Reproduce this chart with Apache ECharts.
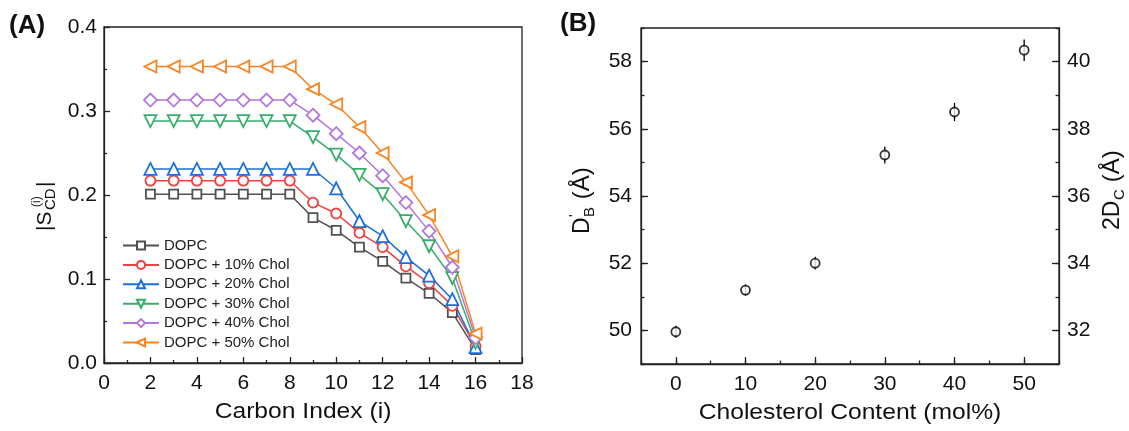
<!DOCTYPE html>
<html>
<head>
<meta charset="utf-8">
<script src="https://cdn.jsdelivr.net/npm/echarts@6/dist/echarts.min.js"></script>
<style>
html, body {margin: 0; padding: 0; background: #fff;}
#main {width: 1129px; height: 431px;}
</style>
</head>
<body>
<div id="main"></div>
<script>
// panel A: order parameter vs carbon index
var carbonIndex = [2, 3, 4, 5, 6, 7, 8, 9, 10, 11, 12, 13, 14, 15, 16];
var dopc   = [0.201, 0.201, 0.201, 0.201, 0.201, 0.201, 0.201, 0.173, 0.158, 0.138, 0.121, 0.101, 0.083, 0.060, 0.016];
var chol10 = [0.217, 0.217, 0.217, 0.217, 0.217, 0.217, 0.217, 0.191, 0.178, 0.155, 0.138, 0.115, 0.095, 0.068, 0.020];
var chol20 = [0.231, 0.231, 0.231, 0.231, 0.231, 0.231, 0.231, 0.231, 0.208, 0.169, 0.151, 0.126, 0.104, 0.076, 0.019];
var chol30 = [0.288, 0.288, 0.288, 0.288, 0.288, 0.288, 0.288, 0.269, 0.248, 0.224, 0.201, 0.169, 0.139, 0.101, 0.024];
var chol40 = [0.313, 0.313, 0.313, 0.313, 0.313, 0.313, 0.313, 0.295, 0.273, 0.250, 0.223, 0.191, 0.157, 0.114, 0.030];
var chol50 = [0.353, 0.353, 0.353, 0.353, 0.353, 0.353, 0.353, 0.326, 0.308, 0.281, 0.250, 0.215, 0.176, 0.127, 0.035];
var seriesNames = ['DOPC', 'DOPC + 10% Chol', 'DOPC + 20% Chol', 'DOPC + 30% Chol', 'DOPC + 40% Chol', 'DOPC + 50% Chol'];

// panel B: spacing vs cholesterol content
var cholContent = [0, 10, 20, 30, 40, 50];
var spacingD = [49.96, 51.20, 52.00, 55.22, 56.50, 58.34];
var spacingErr = [0.18, 0.17, 0.19, 0.25, 0.27, 0.32];

// tick labels
var xTicksB = [0, 10, 20, 30, 40, 50];
var yTicksBLeft = [50, 52, 54, 56, 58];
var yTicksBRight = [32, 34, 36, 38, 40];

var font = 'Liberation Sans';
var ink = '#111';
var axisCol = '#222';

var myChart = echarts.init(document.getElementById('main'));

function lineSeries(name, values, color, symbol, rotate, size) {
    return {
        name: name,
        type: 'line',
        xAxisIndex: 0,
        yAxisIndex: 0,
        data: carbonIndex.map(function (c, i) { return [c, values[i]]; }),
        symbol: symbol,
        symbolSize: size,
        symbolRotate: rotate,
        showAllSymbol: true,
        lineStyle: {color: color, width: 1.5},
        itemStyle: {color: '#fff', borderColor: color, borderWidth: 1.8},
        emphasis: {disabled: true}
    };
}

function rotatedTitle(x, y, parts) {
    return {
        type: 'group', x: x, y: y, rotation: Math.PI / 2,
        children: parts.map(function (p) {
            return {
                type: 'text', x: p[0], y: p[1],
                style: {text: p[2], fontSize: p[3], fontFamily: font, fill: ink, verticalAlign: 'bottom'}
            };
        })
    };
}

function axisBase() {
    return {
        axisLine: {show: true, onZero: false, lineStyle: {color: axisCol, width: 1.3}},
        splitLine: {show: false},
        axisLabel: {fontSize: 21, fontFamily: font, color: ink},
        axisTick: {inside: true, lineStyle: {color: axisCol, width: 1.3}}
    };
}

function minorAxis(min, max, interval, position) {
    return {
        type: 'value', gridIndex: 1, min: min, max: max, interval: interval, position: position,
        axisLine: {show: false, onZero: false}, splitLine: {show: false}, axisLabel: {show: false},
        axisTick: {inside: true, length: 3.5, lineStyle: {color: axisCol, width: 1.3}}
    };
}

var xA = axisBase();
xA.type = 'value'; xA.gridIndex = 0; xA.min = 0; xA.max = 18; xA.interval = 2;
xA.axisTick.length = 6; xA.axisLabel.margin = 10;
xA.minorTick = {show: true, splitNumber: 2, length: 3, lineStyle: {color: axisCol, width: 1.3}};

var yA = axisBase();
yA.type = 'value'; yA.gridIndex = 0; yA.min = 0; yA.max = 0.4; yA.interval = 0.1;
yA.axisTick.length = 6; yA.axisLabel.margin = 7;
yA.axisLabel.formatter = function (v) { return v.toFixed(1); };
yA.minorTick = {show: true, splitNumber: 2, length: 3, lineStyle: {color: axisCol, width: 1.3}};

var xB = axisBase();
xB.type = 'value'; xB.gridIndex = 1; xB.min = -5; xB.max = 55;
xB.axisTick.length = 7; xB.axisTick.customValues = xTicksB;
xB.axisLabel.customValues = xTicksB; xB.axisLabel.margin = 10;

var yBL = axisBase();
yBL.type = 'value'; yBL.gridIndex = 1; yBL.min = 49; yBL.max = 59; yBL.position = 'left';
yBL.axisTick.length = 7; yBL.axisTick.customValues = yTicksBLeft;
yBL.axisLabel.customValues = yTicksBLeft; yBL.axisLabel.margin = 9;

var yBR = axisBase();
yBR.type = 'value'; yBR.gridIndex = 1; yBR.min = 31; yBR.max = 41; yBR.position = 'right';
yBR.axisTick.length = 7; yBR.axisTick.customValues = yTicksBRight;
yBR.axisLabel.customValues = yTicksBRight; yBR.axisLabel.margin = 8;

var option = {
    animation: false,
    backgroundColor: '#fff',
    grid: [
        {left: 104, top: 27, width: 418, height: 336, show: true, borderColor: axisCol, borderWidth: 1.3},
        {left: 641, top: 28, width: 418, height: 336, show: true, borderColor: axisCol, borderWidth: 1.3}
    ],
    legend: {
        orient: 'vertical', left: 117, top: 233,
        itemWidth: 36, itemHeight: 10, itemGap: 4.4,
        data: seriesNames,
        textStyle: {fontSize: 15, fontFamily: font, color: '#222'},
        selectedMode: false
    },
    xAxis: [xA, xB, minorAxis(-5, 55, 5, 'bottom')],
    yAxis: [yA, yBL, minorAxis(49, 59, 1, 'left'), yBR, minorAxis(31, 41, 1, 'right')],
    series: [
        lineSeries(seriesNames[0], dopc, '#515151', 'rect', 0, 9),
        lineSeries(seriesNames[1], chol10, '#F14040', 'circle', 0, 10),
        lineSeries(seriesNames[2], chol20, '#1A6FDF', 'triangle', 0, 12),
        lineSeries(seriesNames[3], chol30, '#37AD6B', 'triangle', 180, 12),
        lineSeries(seriesNames[4], chol40, '#B177DE', 'diamond', 0, 13),
        lineSeries(seriesNames[5], chol50, '#FB8320', 'triangle', 90, 12),
        {
            type: 'custom',
            xAxisIndex: 1,
            yAxisIndex: 1,
            data: cholContent.map(function (c, i) {
                return [c, spacingD[i] - spacingErr[i], spacingD[i] + spacingErr[i]];
            }),
            renderItem: function (params, api) {
                var lo = api.coord([api.value(0), api.value(1)]);
                var hi = api.coord([api.value(0), api.value(2)]);
                return {
                    type: 'line',
                    shape: {x1: lo[0], y1: lo[1], x2: hi[0], y2: hi[1]},
                    style: {stroke: '#000', lineWidth: 1.3}
                };
            },
            z: 1
        },
        {
            type: 'scatter',
            xAxisIndex: 1,
            yAxisIndex: 1,
            data: cholContent.map(function (c, i) { return [c, spacingD[i]]; }),
            symbol: 'circle',
            symbolSize: 9,
            itemStyle: {color: '#fff', borderColor: '#000', borderWidth: 1.8},
            emphasis: {disabled: true},
            z: 3
        }
    ],
    graphic: [
        {type: 'text', left: 9, top: 13, style: {text: '(A)', fontSize: 26, fontWeight: 'bold', fontFamily: font, fill: ink}},
        {type: 'text', left: 560, top: 11, style: {text: '(B)', fontSize: 26, fontWeight: 'bold', fontFamily: font, fill: ink}},
        {type: 'text', x: 303, y: 412, scaleX: 1.12, style: {text: 'Carbon Index (i)', fontSize: 22, fontFamily: font, fill: ink, align: 'center', verticalAlign: 'middle'}},
        {type: 'text', x: 850, y: 413, scaleX: 1.12, style: {text: 'Cholesterol Content (mol%)', fontSize: 22, fontFamily: font, fill: ink, align: 'center', verticalAlign: 'middle'}},
        rotatedTitle(56, 231, [[0, 0, '|S', 21], [21, 2, 'CD', 15], [24, -13, '(i)', 12], [44, 0, '|', 21]]),
        rotatedTitle(594, 234, [[0, 0, 'D', 23], [17, -12, "'", 14], [17, 3, 'B', 15], [28, 0, ' (Å)', 24]]),
        rotatedTitle(1124, 230, [[0, 0, '2D', 23], [30, 3, 'C', 15], [41, 0, ' (Å)', 24]])
    ]
};

myChart.setOption(option);
</script>
</body>
</html>
